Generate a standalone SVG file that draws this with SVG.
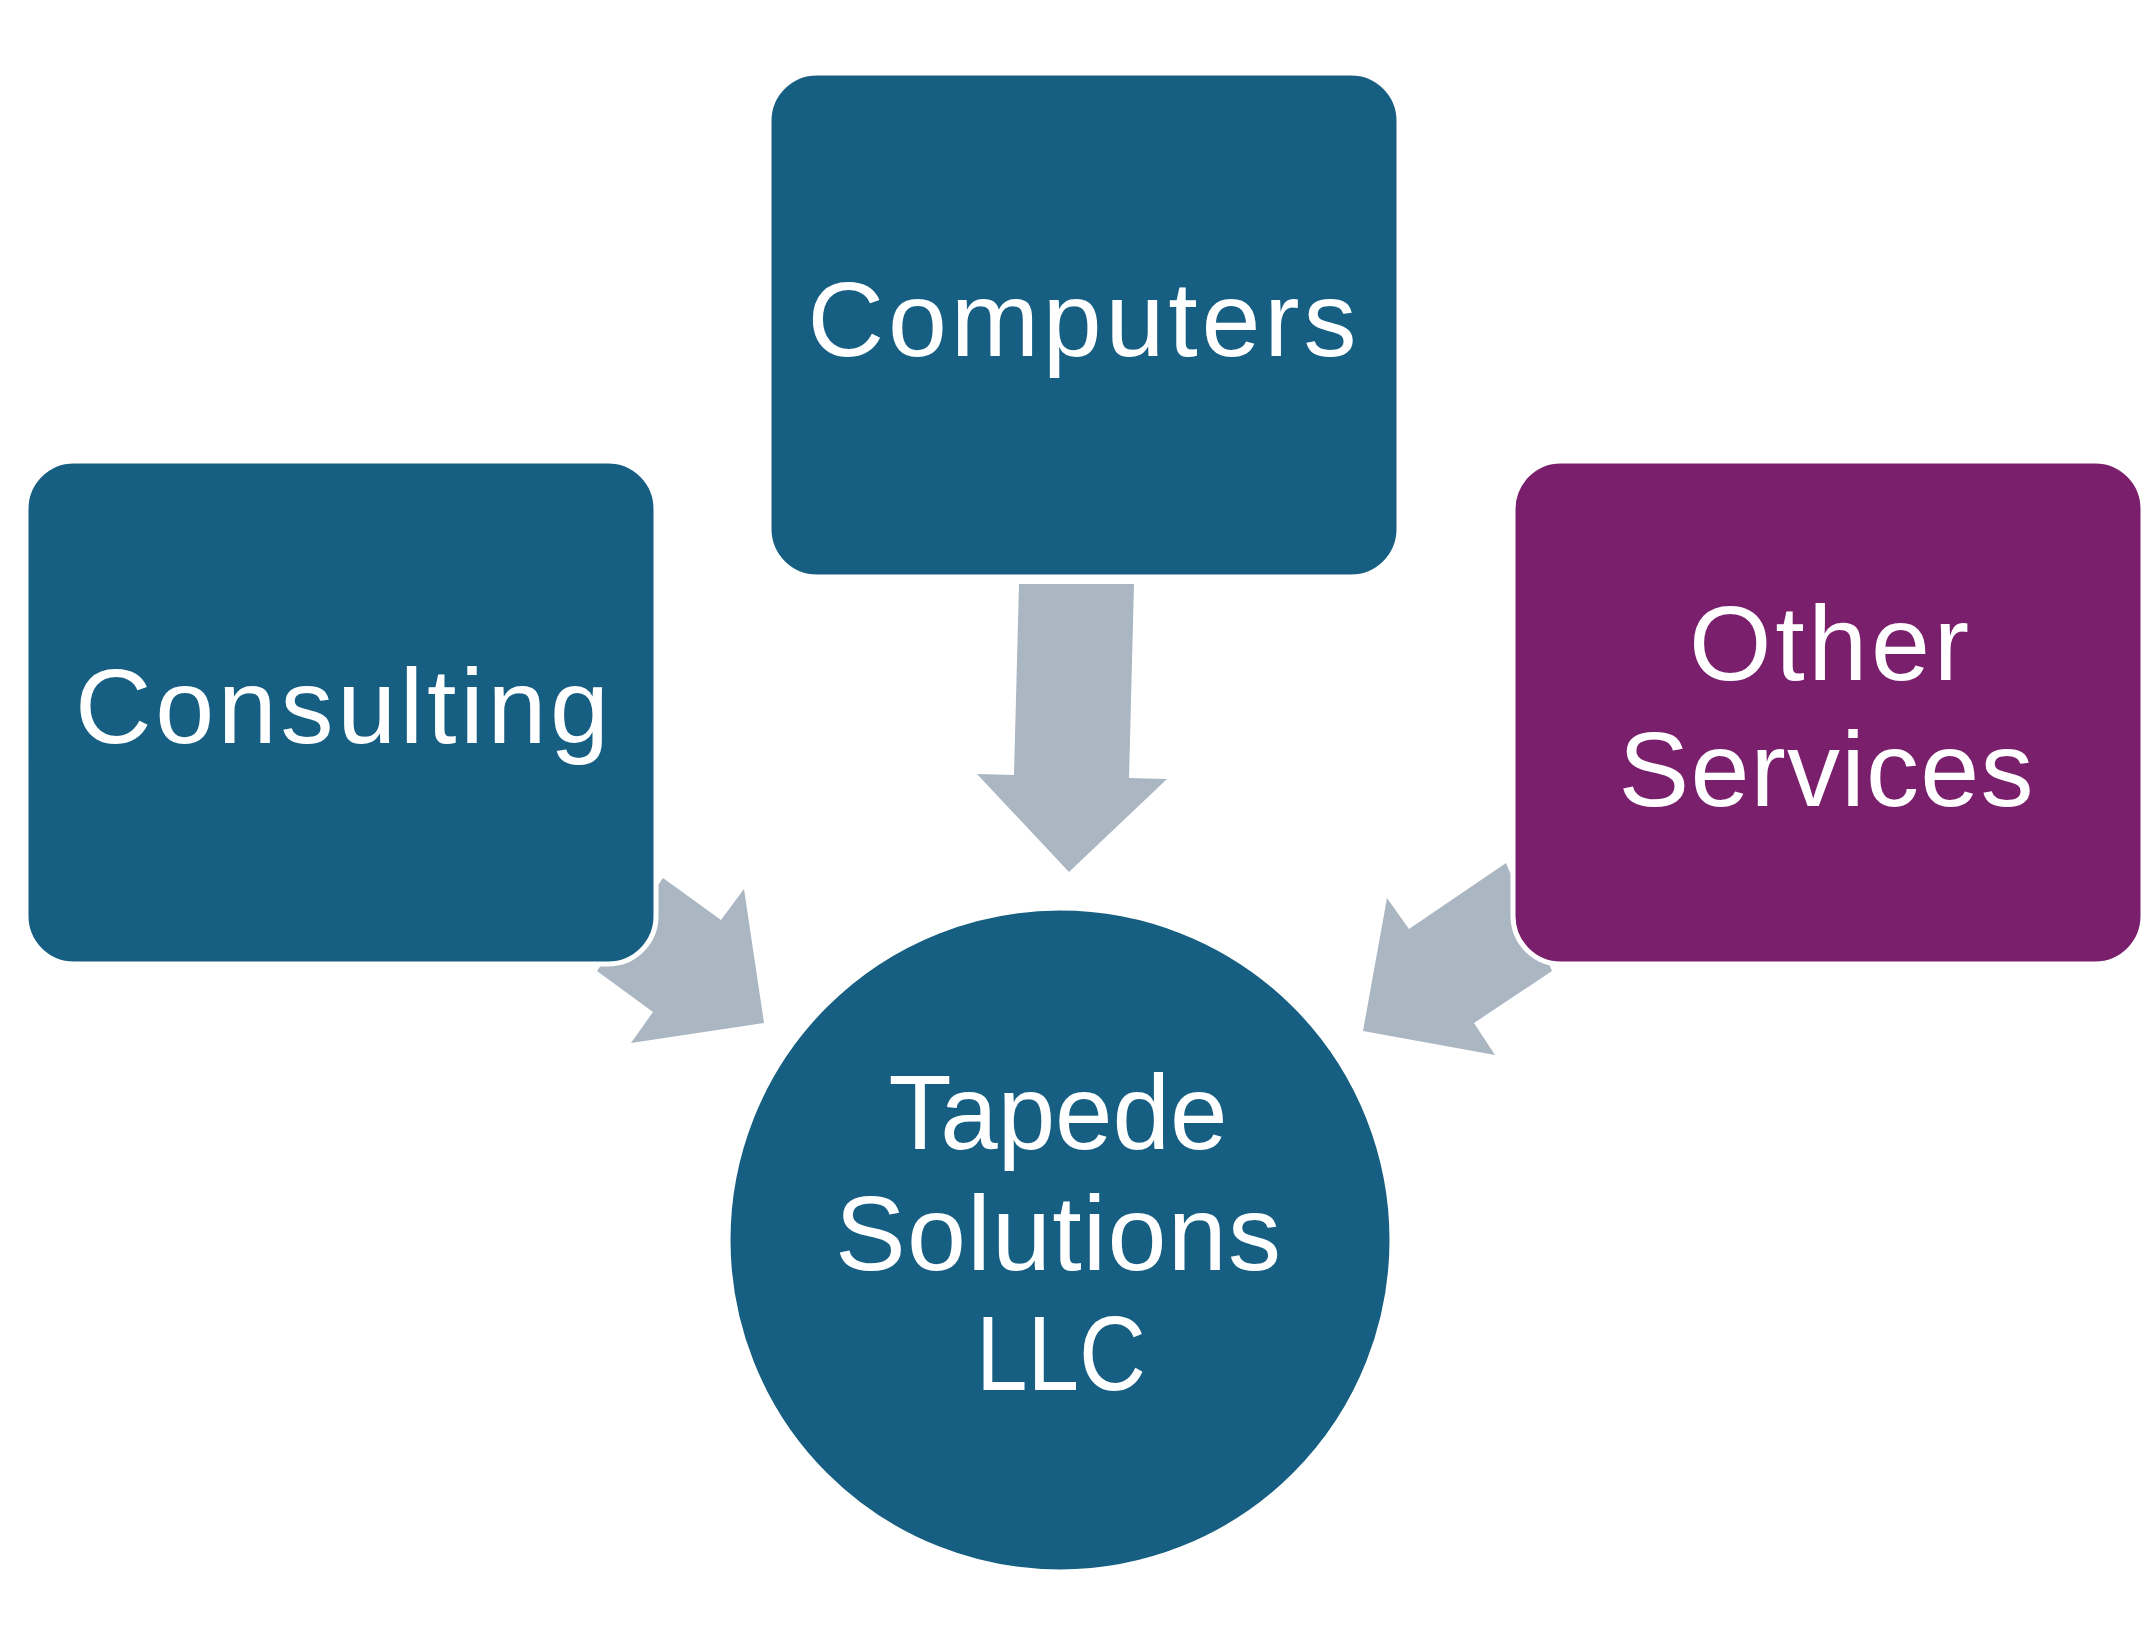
<svg xmlns="http://www.w3.org/2000/svg" width="2150" height="1638" viewBox="0 0 2150 1638">
<style>
.box{stroke:#FFFFFF;stroke-width:5}
.blue{fill:#175F82}
.purple{fill:#7A1F6C}
.arrow{fill:#AAB6C2}
.lbl{font-family:"Liberation Sans","Open Sans",sans-serif;font-size:106px;fill:#FFFFFF;text-anchor:middle}
</style>
<rect width="2150" height="1638" fill="#FFFFFF"/>
<g id="connectors">
<polygon class="arrow" points="1019,584 1134,584 1129,778 1167,779 1069,872 977,774 1014,775"/>
<polygon class="arrow" points="663,878 721,920 744,889 764,1023 631,1043 653,1012 597,971"/>
<polygon class="arrow" points="1506,863 1409,929 1387,898 1363,1031 1495,1055 1474,1023 1552,971"/>
</g>
<g id="node-computers">
<rect class="box blue" x="769" y="73" width="630" height="504" rx="48" ry="48"/>
<text class="lbl" x="1082" y="356" textLength="549">Computers</text>
</g>
<g id="node-consulting">
<rect class="box blue" x="26" y="461" width="630" height="503" rx="48" ry="48"/>
<text class="lbl" x="342" y="743" textLength="534">Consulting</text>
</g>
<g id="node-other-services">
<rect class="box purple" x="1513" y="461" width="630" height="503" rx="48" ry="48"/>
<text class="lbl" x="1829" y="680" textLength="280">Other</text>
<text class="lbl" x="1826" y="806" textLength="415">Services</text>
</g>
<g id="node-tapede">
<circle class="box blue" cx="1060" cy="1240" r="332"/>
<text class="lbl" x="1058" y="1149" textLength="339" lengthAdjust="spacingAndGlyphs">Tapede</text>
<text class="lbl" x="1058" y="1270" textLength="446">Solutions</text>
<text class="lbl" x="1061" y="1390" textLength="170" lengthAdjust="spacingAndGlyphs">LLC</text>
</g>
</svg>
